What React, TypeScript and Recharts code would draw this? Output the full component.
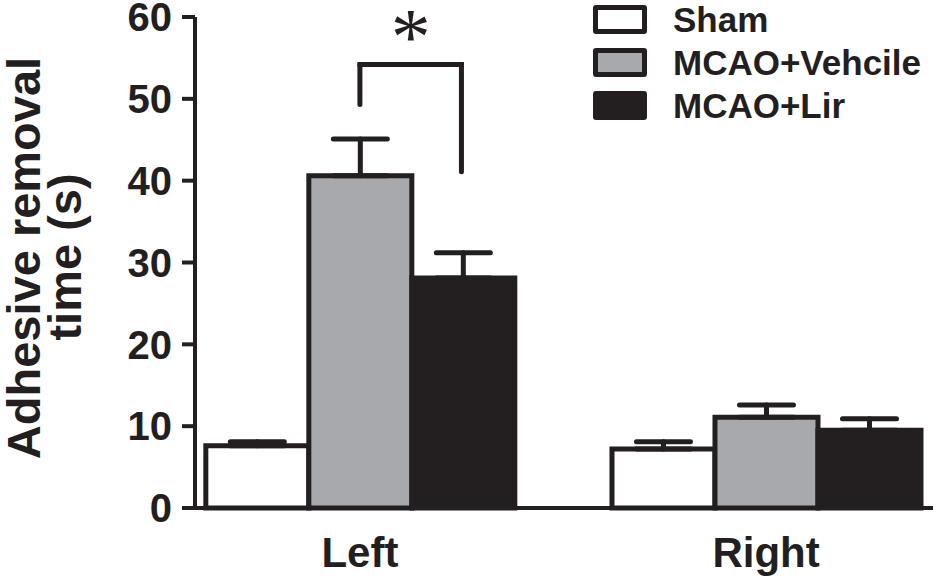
import React from "react";
import {
  BarChart,
  Bar,
  XAxis,
  YAxis,
  ErrorBar,
  Legend,
  ReferenceLine,
  ReferenceDot,
} from "recharts";

const sides = ["Left", "Right"];
const sham = [7.6, 7.2];
const shamErr = [0.5, 0.9];
const vehicle = [40.6, 11.1];
const vehicleErr = [4.5, 1.5];
const lir = [28.1, 9.5];
const lirErr = [3.1, 1.4];
const yTicks = [0, 10, 20, 30, 40, 50, 60];

// significance bracket between MCAO+Vehcile and MCAO+Lir on the left side
const bracketX = [0, 0.25];
const bracketY = [49.3, 54.2, 41.1];
const starPos = { x: 0.125, y: 54.3 };

const INK = "#231f20";
const FONT = "'Liberation Sans', Arial, sans-serif";

const series = [
  { key: "sham", name: "Sham", fill: "#ffffff" },
  { key: "vehicle", name: "MCAO+Vehcile", fill: "#a7a9ac" },
  { key: "lir", name: "MCAO+Lir", fill: INK },
];

const data = sides.map((side, i) => ({
  pos: i,
  side,
  sham: sham[i],
  shamErr: [0, shamErr[i]],
  vehicle: vehicle[i],
  vehicleErr: [0, vehicleErr[i]],
  lir: lir[i],
  lirErr: [0, lirErr[i]],
}));

function YLabel() {
  return (
    <text
      transform="rotate(-90)"
      fill={INK}
      fontFamily={FONT}
      fontWeight="bold"
      fontSize={47}
      textAnchor="middle"
    >
      <tspan x={-258} y={40}>
        Adhesive removal
      </tspan>
      <tspan x={-257} y={81}>
        time (s)
      </tspan>
    </text>
  );
}

function LegendBox() {
  return (
    <div style={{ fontFamily: FONT, fontWeight: "bold", color: INK }}>
      {series.map((s) => (
        <div
          key={s.key}
          style={{ display: "flex", alignItems: "center", height: 43 }}
        >
          <div
            style={{
              width: 44,
              height: 19,
              border: `5px solid ${INK}`,
              borderRadius: 3,
              background: s.fill,
              marginRight: 26,
            }}
          />
          <span style={{ fontSize: 35, lineHeight: "43px" }}>{s.name}</span>
        </div>
      ))}
    </div>
  );
}

export default function App() {
  return (
    <div style={{ position: "absolute", left: 0, top: 0, background: "#fff" }}>
      <BarChart
        width={939}
        height={580}
        data={data}
        margin={{ top: 17, right: 6, left: 0, bottom: 0 }}
        barGap={0}
        barSize={103}
      >
        <XAxis
          type="number"
          dataKey="pos"
          domain={[-0.406, 1.411]}
          allowDataOverflow
          ticks={[0, 1]}
          tickFormatter={(v: number) => sides[v]}
          height={72}
          stroke={INK}
          strokeWidth={4}
          tickLine={false}
          tickSize={0}
          tickMargin={29}
          tick={{ fill: INK, fontSize: 42, fontWeight: "bold", fontFamily: FONT }}
        />
        <YAxis
          width={195}
          domain={[0, 60]}
          ticks={yTicks}
          interval={0}
          stroke={INK}
          strokeWidth={4}
          tickSize={13}
          tickMargin={10}
          tickLine={{ stroke: INK, strokeWidth: 4 }}
          tick={{ fill: INK, fontSize: 40, fontWeight: "bold", fontFamily: FONT }}
          label={{ content: () => <YLabel /> }}
        />
        <Legend
          layout="vertical"
          align="center"
          verticalAlign="middle"
          wrapperStyle={{ top: -2, left: 593, width: 346, height: 130 }}
          content={() => <LegendBox />}
        />
        {series.map((s) => (
          <Bar
            key={s.key}
            dataKey={s.key}
            name={s.name}
            fill={s.fill}
            stroke={INK}
            strokeWidth={5}
            isAnimationActive={false}
          >
            <ErrorBar
              dataKey={`${s.key}Err`}
              width={27}
              stroke={INK}
              strokeWidth={5}
              strokeLinecap="round"
            />
          </Bar>
        ))}
        <ReferenceLine
          segment={[
            { x: bracketX[0], y: bracketY[0] },
            { x: bracketX[0], y: bracketY[1] },
          ]}
          stroke={INK}
          strokeWidth={5}
          strokeLinecap="round"
          ifOverflow="visible"
        />
        <ReferenceLine
          segment={[
            { x: bracketX[0], y: bracketY[1] },
            { x: bracketX[1], y: bracketY[1] },
          ]}
          stroke={INK}
          strokeWidth={5}
          strokeLinecap="square"
          ifOverflow="visible"
        />
        <ReferenceLine
          segment={[
            { x: bracketX[1], y: bracketY[1] },
            { x: bracketX[1], y: bracketY[2] },
          ]}
          stroke={INK}
          strokeWidth={5}
          strokeLinecap="round"
          ifOverflow="visible"
        />
        <ReferenceDot
          x={starPos.x}
          y={starPos.y}
          ifOverflow="visible"
          shape={(p: any) => (
            <text
              x={p.cx}
              y={p.cy}
              textAnchor="middle"
              fill={INK}
              fontFamily="'Liberation Serif', 'Times New Roman', serif"
              fontSize={80}
            >
              *
            </text>
          )}
        />
      </BarChart>
    </div>
  );
}
